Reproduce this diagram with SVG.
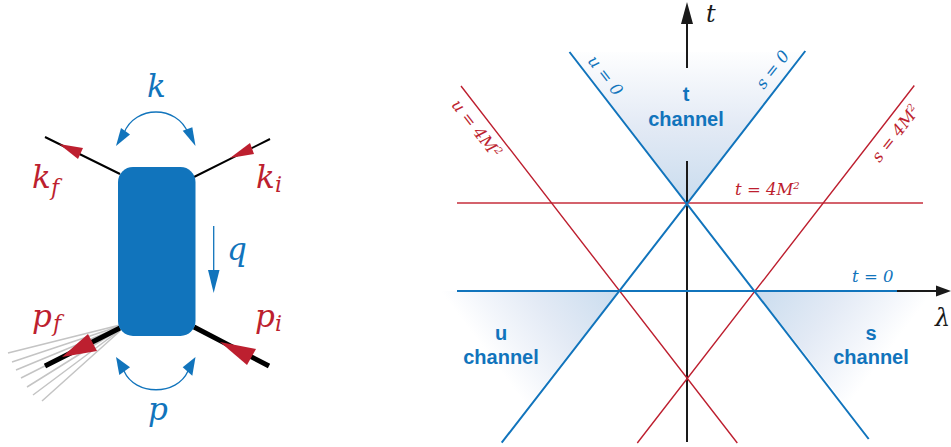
<svg xmlns="http://www.w3.org/2000/svg" width="951" height="447" viewBox="0 0 951 447">
<style>
.b{fill:#1174bc}.r{fill:#bd1f2f}.k{fill:#1a1a1a}
.m{font-family:"DejaVu Serif","Liberation Serif",serif;font-style:italic}
.big{font-size:31px}.sub{font-size:22px}.sm{font-size:16.500px}
.ch{font-family:"Liberation Sans",Arial,sans-serif;font-weight:bold;font-size:20px;fill:#1174bc;text-anchor:middle}
.bl{stroke:#1174bc;stroke-width:2;fill:none}
.rl{stroke:#bd1f2f;stroke-width:1.4;fill:none}
.gr{stroke:#c4c4c4;stroke-width:1.5;fill:none}
</style>
<defs>
<linearGradient id="gt" gradientUnits="userSpaceOnUse" x1="687" y1="204" x2="687" y2="48"><stop offset="0" stop-color="#c9dcee"/><stop offset="0.5" stop-color="#e3eaf5"/><stop offset="1" stop-color="#fff"/></linearGradient>
<linearGradient id="gu" gradientUnits="userSpaceOnUse" x1="619" y1="291" x2="504.600" y2="376.800"><stop offset="0" stop-color="#c9dcee"/><stop offset="0.5" stop-color="#e3eaf5"/><stop offset="0.8" stop-color="#f3f6fb"/><stop offset="1" stop-color="#fff"/></linearGradient>
<linearGradient id="gs" gradientUnits="userSpaceOnUse" x1="755" y1="291" x2="869.400" y2="376.800"><stop offset="0" stop-color="#c9dcee"/><stop offset="0.5" stop-color="#e3eaf5"/><stop offset="0.8" stop-color="#f3f6fb"/><stop offset="1" stop-color="#fff"/></linearGradient>
</defs>
<g id="left-connectors">
<g class="gr"><path d="M120 325L8 353M120 326L12 362M120 327L16 370M120 328L21 378M120 329L27 387M120 330L33 395M120 331L42 401"/></g>
<path d="M45 137L120 174M270 139L194 177" stroke="#000" stroke-width="2" fill="none"/>
<path d="M45 366L120 328M194 327L269 366" stroke="#000" stroke-width="5" fill="none"/>
<path class="r" d="M59 144L83 148L78 159Z"/>
<path class="r" d="M230 158L250 143L254 154Z"/>
<path class="r" d="M62 357L88 334L97 351Z"/>
<path class="r" d="M220 342L256 349L247 365Z"/>
<path d="M124 133C135 105 177 105 188 133M124 371C135 396 177 396 188 371M213.700 226V272" stroke="#1174bc" stroke-width="1.300" fill="none"/>
<path class="b" d="M116 146L121 128L130 134.500Z"/>
<path class="b" d="M195.500 146L182.700 130.700L192.300 127.300Z"/>
<path class="b" d="M116 357L130 367.300L119.300 375Z"/>
<path class="b" d="M195.500 357L192.300 375.700L182.700 367.300Z"/>
<path class="b" d="M213.700 293L208 270H219.500Z"/>
</g>
<g id="box"><rect x="118" y="167" width="77.500" height="169" rx="15" class="b"/></g>
<g id="labels-left" class="m big">
<text x="147" y="97" class="b">k</text>
<text x="227" y="260" class="b">q</text>
<text x="148" y="420" class="b">p</text>
<text x="32" y="188" class="r">k</text><text x="51" y="195" class="r sub">f</text>
<text x="256" y="188" class="r">k</text><text x="275" y="192" class="r sub">i</text>
<text x="32" y="327" class="r">p</text><text x="53" y="331" class="r sub">f</text>
<text x="255" y="327" class="r">p</text><text x="275" y="331" class="r sub">i</text>
</g>
<g id="regions">
<path id="t-channel" d="M687 204L569.500 52H805Z" fill="url(#gt)"/>
<path id="u-channel" d="M619 291H440L527 407Z" fill="url(#gu)"/>
<path id="s-channel" d="M755 291H935L847 407Z" fill="url(#gs)"/>
</g>
<g id="axes">
<path d="M687 442V161M687 68V24M897 291H938" stroke="#1a1a1a" stroke-width="2" fill="none"/>
<path class="k" d="M687 2L693 24H681Z"/>
<path class="k" d="M951 291L936 285.500V296.500Z"/>
</g>
<g id="lines">
<path d="M457 203H923" stroke="#d4626c" stroke-width="2" fill="none"/>
<path class="rl" d="M461 86L737.300 443M914.300 85.500L637.300 443"/>
<path class="bl" d="M569.500 52L868.700 439M805.300 51L501.700 442.700M457 291H897"/>
</g>
<g id="labels-right">
<text x="706" y="22" class="m k" font-size="24">t</text>
<text x="935" y="326" class="m k" font-size="24">λ</text>
<text x="852" y="282" class="m b sm">t = 0</text>
<text x="735" y="195" class="m r sm">t = 4M<tspan font-size="10" dy="-6">2</tspan></text>
<text transform="translate(601 79) rotate(52)" text-anchor="middle" class="m b sm">u = 0</text>
<text transform="translate(777 73) rotate(-52)" text-anchor="middle" class="m b sm">s = 0</text>
<text transform="translate(472 132) rotate(52)" text-anchor="middle" class="m r sm">u = 4M<tspan font-size="10" dy="-6">2</tspan></text>
<text transform="translate(900 137) rotate(-52)" text-anchor="middle" class="m r sm">s = 4M<tspan font-size="10" dy="-6">2</tspan></text>
<text x="686" y="101" class="ch">t</text><text x="686" y="126" class="ch">channel</text>
<text x="501" y="340" class="ch">u</text><text x="501" y="364" class="ch">channel</text>
<text x="871" y="340" class="ch">s</text><text x="871" y="364" class="ch">channel</text>
</g>
</svg>
